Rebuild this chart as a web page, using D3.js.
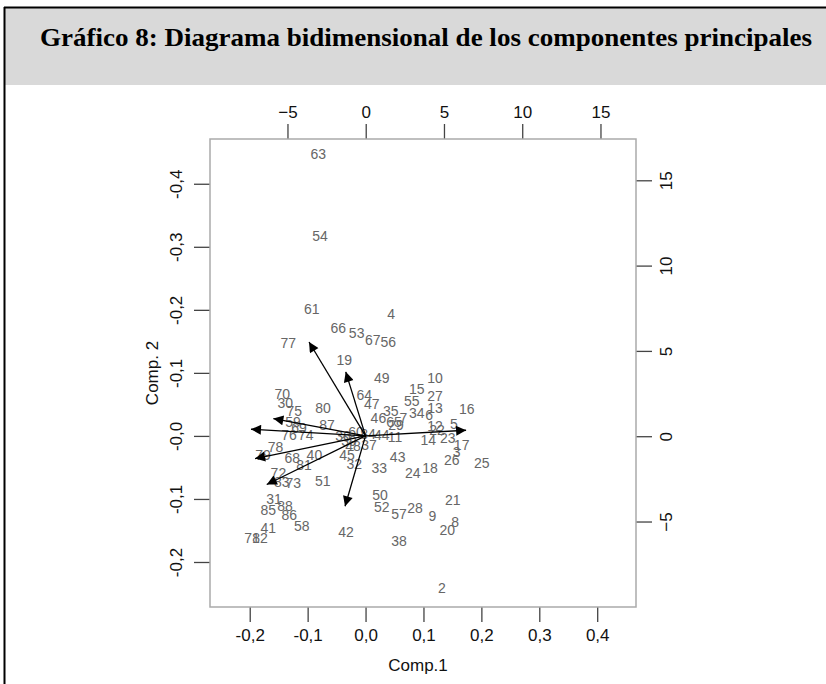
<!DOCTYPE html>
<html>
<head>
<meta charset="utf-8">
<script src="https://cdn.jsdelivr.net/npm/d3@7"></script>
<style>
  body { margin: 0; background: #fff; }
  svg text { font-family: "Liberation Sans", Arial, sans-serif; }
</style>
</head>
<body>
<div id="chart"></div>
<script>
// observation labels and their scores (top / right axes)
const obsLabels = ["63","54","61","77","70","30","75","80","87","59","69","76","74","78","79","68","40","81","72","83","73","51",
  "31","85","88","86","58","41","71","82","42","50","52","57","28","9","21","8","20","38","2",
  "66","53","67","56","4","19","49","10","15","27","55","13","34","6","16","64","47","35","46","65","29","7",
  "12","22","5","14","23","17","3","26","25","18","24","43","33","11","44","84","60","37","36","48","39","45","32"];
const obsX = [-3.03,-2.92,-3.45,-4.95,-5.33,-5.14,-4.56,-2.73,-2.47,-4.65,-4.26,-4.90,-3.83,-5.76,-6.56,-4.69,-3.28,-3.94,-5.58,-5.37,-4.63,-2.75,
  -5.86,-6.22,-5.16,-4.88,-4.09,-6.22,-7.27,-6.75,-1.26,0.91,1.02,2.13,3.15,4.26,5.56,5.71,5.21,2.13,4.86,
  -1.75,-0.58,0.45,1.44,1.62,-1.37,1.02,4.43,3.26,4.43,2.94,4.43,3.26,4.06,6.45,-0.09,0.38,1.60,0.81,1.81,1.94,2.40,
  4.43,4.56,5.64,4.00,5.24,6.13,5.81,5.50,7.41,4.11,3.00,2.04,0.87,1.87,1.02,0.15,-0.62,0.21,-1.45,-0.81,-1.07,-1.19,-0.73];
const obsY = [16.54,11.75,7.44,5.45,2.46,1.96,1.48,1.65,0.66,0.83,0.48,0.07,0.07,-0.62,-1.10,-1.26,-1.10,-1.69,-2.17,-2.67,-2.73,-2.63,
  -3.70,-4.33,-4.09,-4.62,-5.26,-5.40,-5.97,-5.97,-5.60,-3.45,-4.13,-4.56,-4.23,-4.68,-3.74,-5.01,-5.50,-6.14,-8.92,
  6.36,6.07,5.64,5.54,7.15,4.47,3.43,3.43,2.75,2.36,2.06,1.67,1.34,1.24,1.59,2.41,1.87,1.48,1.05,0.83,0.66,1.05,
  0.60,0.36,0.72,-0.22,-0.09,-0.52,-0.91,-1.40,-1.55,-1.85,-2.14,-1.20,-1.88,-0.03,0.07,0.13,0.25,-0.52,0.01,-0.57,-0.28,-1.10,-1.63];

// variable loadings (bottom / left axes)
const loadX = [-0.0976,-0.0342,-0.0354,0.1736,-0.1978,-0.1592,-0.1908,-0.1706];
const loadY = [0.149,0.1016,-0.1116,0.009,0.0106,0.0276,-0.0359,-0.0771];

const bottomTicks = [-0.2,-0.1,0,0.1,0.2,0.3,0.4];
const bottomTickLabels = ["-0,2","-0,1","0,0","0,1","0,2","0,3","0,4"];
const leftTicks = [0.4,0.3,0.2,0.1,0,-0.1,-0.2];
const leftTickLabels = ["-0,4","-0,3","-0,2","-0,1","-0,0","-0,1","-0,2"];
const topTicks = [-5,0,5,10,15];
const rightTicks = [15,10,5,0,-5];

const width = 826, height = 684;
const margin = { top: 139, right: 190, bottom: 77, left: 210 };
const plotW = width - margin.left - margin.right;
const plotH = height - margin.top - margin.bottom;

const svg = d3.select("#chart").append("svg")
    .attr("width", width)
    .attr("height", height);

// title box
svg.append("rect").attr("x", 4).attr("y", 7).attr("width", width - 4).attr("height", 78).attr("fill", "#d9d9d9");
svg.append("line").attr("x1", 4).attr("x2", width).attr("y1", 7.5).attr("y2", 7.5).attr("stroke", "#000").attr("stroke-width", 2);
svg.append("line").attr("x1", 4.5).attr("x2", 4.5).attr("y1", 7).attr("y2", height).attr("stroke", "#000").attr("stroke-width", 2);
svg.append("text")
    .attr("x", 40).attr("y", 46)
    .attr("textLength", 772).attr("lengthAdjust", "spacingAndGlyphs")
    .style("font-family", "'Liberation Serif', 'Times New Roman', serif")
    .style("font-weight", "bold")
    .style("font-size", "26px")
    .text("Gráfico 8: Diagrama bidimensional de los componentes principales");

const g = svg.append("g").attr("transform", `translate(${margin.left},${margin.top})`);

const xL = d3.scaleLinear().domain([-0.2686, 0.467]).range([0, plotW]);
const yL = d3.scaleLinear().domain([-0.2714, 0.471]).range([plotH, 0]);
const xS = d3.scaleLinear().domain([-9.95, 17.27]).range([0, plotW]);
const yS = d3.scaleLinear().domain([-10.01, 17.42]).range([plotH, 0]);

function styleAxis(sel) {
    sel.select(".domain").remove();
    sel.selectAll(".tick line").attr("stroke", "#444").attr("stroke-width", 1.3);
    sel.selectAll(".tick text").attr("fill", "#111").style("font-size", "17px");
}

g.append("g").attr("transform", `translate(0,${plotH})`)
    .call(d3.axisBottom(xL).tickValues(bottomTicks).tickSize(15).tickPadding(7)
        .tickFormat((d, i) => bottomTickLabels[i]))
    .call(styleAxis);

g.append("g")
    .call(d3.axisLeft(yL).tickValues(leftTicks).tickSize(16).tickPadding(0)
        .tickFormat((d, i) => leftTickLabels[i]))
    .call(styleAxis)
    .selectAll(".tick text")
    .attr("transform", "translate(-34,0) rotate(-90)")
    .attr("x", 0).attr("dy", "0.35em")
    .style("text-anchor", "middle");

g.append("g")
    .call(d3.axisTop(xS).tickValues(topTicks).tickSize(15).tickPadding(6))
    .call(styleAxis);

g.append("g").attr("transform", `translate(${plotW},0)`)
    .call(d3.axisRight(yS).tickValues(rightTicks).tickSize(16).tickPadding(0))
    .call(styleAxis)
    .selectAll(".tick text")
    .attr("transform", "translate(30,0) rotate(-90)")
    .attr("x", 0).attr("dy", "0.35em")
    .style("text-anchor", "middle");

// frame
g.append("rect").attr("width", plotW).attr("height", plotH)
    .attr("fill", "none").attr("stroke", "#aaa").attr("stroke-width", 1.5);

// axis titles
svg.append("text").attr("x", 418).attr("y", 671).attr("text-anchor", "middle")
    .style("font-size", "17px").attr("fill", "#111").text("Comp.1");
svg.append("text").attr("transform", "translate(158,373) rotate(-90)").attr("text-anchor", "middle")
    .style("font-size", "17px").attr("fill", "#111").text("Comp. 2");

// observations
g.append("g").selectAll("text")
    .data(obsLabels)
    .join("text")
    .attr("x", (d, i) => xS(obsX[i]))
    .attr("y", (d, i) => yS(obsY[i]))
    .attr("dy", "0.35em")
    .attr("text-anchor", "middle")
    .attr("fill", "#666")
    .style("font-size", "14px")
    .text(d => d);

// arrows
svg.append("defs").append("marker")
    .attr("id", "head")
    .attr("viewBox", "0 0 10 10")
    .attr("refX", 10).attr("refY", 5)
    .attr("markerWidth", 12).attr("markerHeight", 10)
    .attr("markerUnits", "userSpaceOnUse")
    .attr("orient", "auto")
    .append("path").attr("d", "M0,0 L10,5 L0,10 Z").attr("fill", "#000");

g.append("g").selectAll("line")
    .data(loadX)
    .join("line")
    .attr("x1", xL(0)).attr("y1", yL(0))
    .attr("x2", (d, i) => xL(loadX[i]))
    .attr("y2", (d, i) => yL(loadY[i]))
    .attr("stroke", "#000")
    .attr("stroke-width", 1.3)
    .attr("marker-end", "url(#head)");
</script>
</body>
</html>
